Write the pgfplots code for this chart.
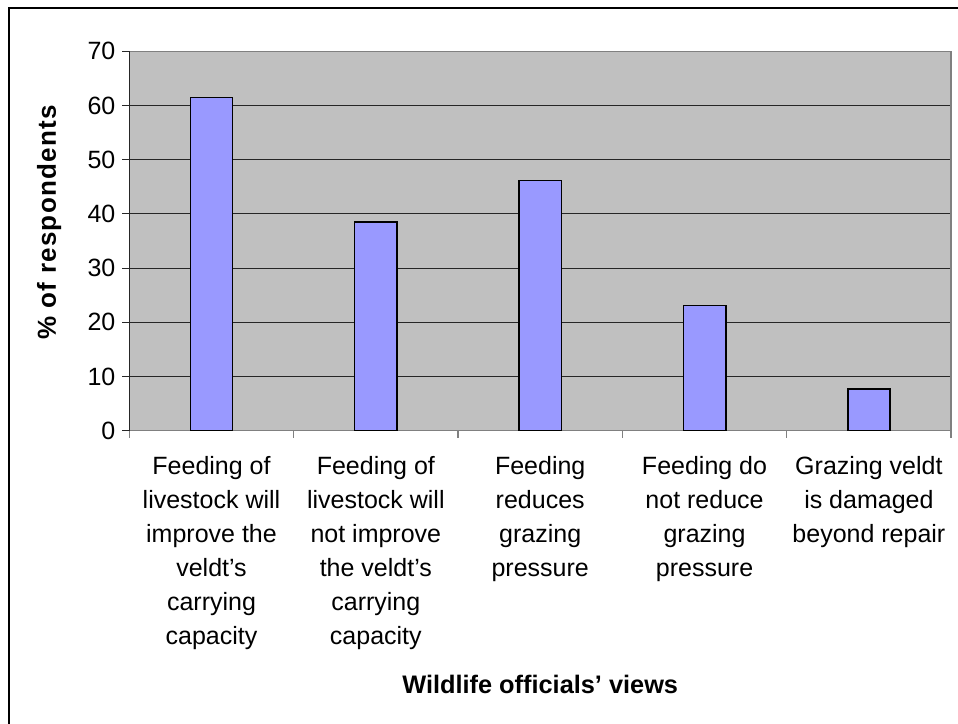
\documentclass[border=0pt]{standalone}
\usepackage{fontspec}
\setmainfont{Liberation Sans}
\usepackage{pgfplots}
\pgfplotsset{compat=1.18}
\definecolor{plotbg}{HTML}{C0C0C0}
\definecolor{barfill}{HTML}{9999FF}
\definecolor{boxgray}{HTML}{808080}
\begin{document}
\begin{tikzpicture}
\useasboundingbox (0,0) rectangle (718.5pt,543pt);
\draw[black, line width=1.1pt] (6.75pt,-20pt) rectangle (740pt,537pt);
\begin{axis}[
  at={(97pt,220pt)}, anchor=south west,
  scale only axis,
  width=616.3pt, height=284.5pt,
  axis background/.style={fill=plotbg},
  axis line style={boxgray, line width=0.9pt},
  ymin=0, ymax=70,
  ytick={0,10,...,70},
  xmin=-0.5, xmax=4.5,
  xtick={0,1,2,3,4},
  xticklabels={
    {Feeding of\\livestock will\\improve the\\veldt’s\\carrying\\capacity},
    {Feeding of\\livestock will\\not improve\\the veldt’s\\carrying\\capacity},
    {Feeding\\reduces\\grazing\\pressure},
    {Feeding do\\not reduce\\grazing\\pressure},
    {Grazing veldt\\is damaged\\beyond repair}},
  minor xtick={-0.5,0.5,...,4.5},
  tick pos=left,
  tick align=outside,
  major tick length=5.25pt,
  minor tick length=5.25pt,
  x tick style={draw=none},
  minor x tick style={draw=boxgray, line width=0.9pt},
  y tick style={draw=black!85, line width=0.75pt},
  ymajorgrids,
  major grid style={black!85, line width=0.75pt},
  /pgf/number format/assume math mode=true,
  yticklabel style={font=\fontsize{18.75}{22}\selectfont, inner sep=0pt, anchor=east, xshift=-5pt},
  xticklabel style={font=\fontsize{18.75}{25.5}\selectfont, align=center, anchor=north, inner sep=0pt, yshift=-14pt},
  xlabel={Wildlife officials’ views},
  ylabel={\addfontfeature{LetterSpace=5}\% of respondents},
  xlabel style={font=\bfseries\fontsize{19}{22}\selectfont, at={(axis description cs:0.5,-0.669)}, anchor=center},
  ylabel style={font=\bfseries\fontsize{19.5}{22}\selectfont, at={(axis description cs:-0.0977,0.549)}, anchor=center},
  clip=false,
]
\addplot[ybar, bar width=0.2575, fill=barfill, draw=black, line width=1.2pt] coordinates {
  (0,61.5) (1,38.5) (2,46.2) (3,23.1) (4,7.7)
};
\draw[black!85, line width=0.9pt] (axis cs:-0.5,0) -- (axis cs:-0.5,70);
\end{axis}
\end{tikzpicture}
\end{document}
